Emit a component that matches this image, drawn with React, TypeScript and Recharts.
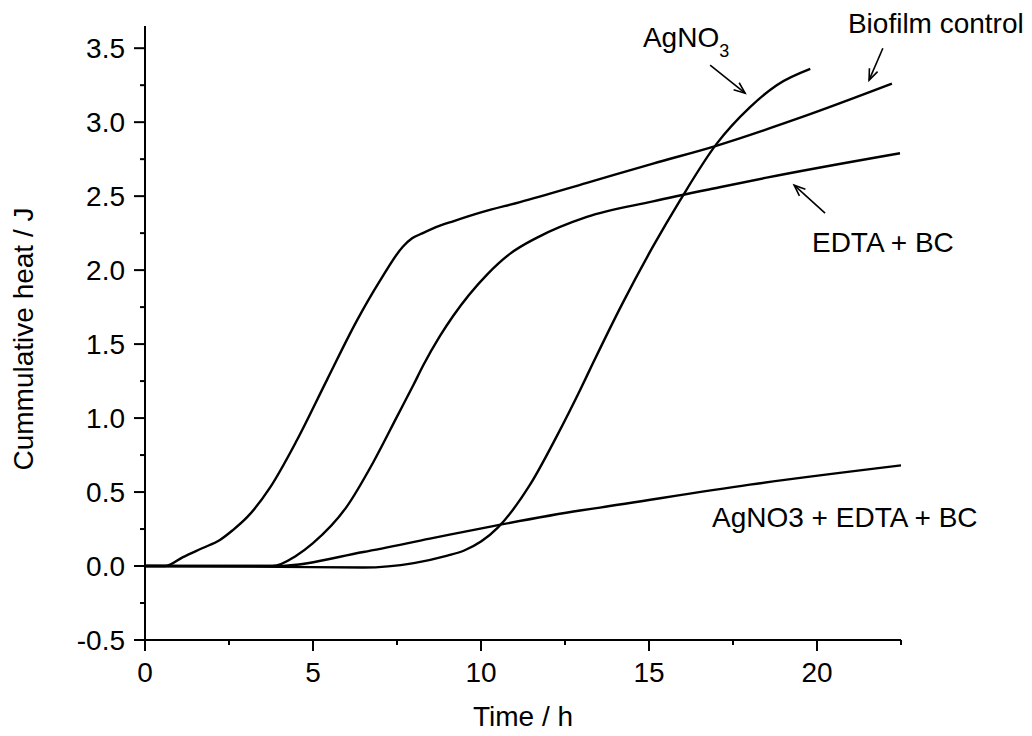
import { LineChart, Line, XAxis, YAxis, ReferenceLine, ReferenceDot } from "recharts";

const INK = "#000";
const FONT = '"Liberation Sans", Arial, sans-serif';

// time in h, cumulative heat in J
const biofilmTime = [0, 0.6, 1.13, 1.7, 2.23, 2.6, 3.04, 3.72, 4.52, 5.42, 6.31, 7.0, 7.68, 7.95, 8.27, 8.78, 9.17, 10.0, 11.16, 13.15, 15.12, 17.0, 19.5, 22.23];
const biofilmHeat = [0, 0, 0.06, 0.12, 0.176, 0.24, 0.33, 0.53, 0.85, 1.26, 1.66, 1.93, 2.16, 2.215, 2.25, 2.3, 2.33, 2.39, 2.46, 2.59, 2.72, 2.84, 3.03, 3.26];

const edtaTime = [0, 3.8, 4.5, 5.0, 6.0, 6.79, 7.5, 7.98, 8.29, 8.78, 9.17, 10.18, 10.86, 11.67, 13.15, 15.12, 17.1, 18.5, 22.47];
const edtaHeat = [0, 0, 0.07, 0.155, 0.4, 0.7, 1.01, 1.22, 1.36, 1.555, 1.69, 1.97, 2.11, 2.22, 2.36, 2.465, 2.56, 2.625, 2.79];

const agTime = [0, 4.0, 6.5, 8.0, 9.0, 9.5, 10.0, 10.5, 11.46, 12.26, 12.95, 13.33, 14.2, 15.12, 15.92, 17.0, 18.0, 18.8, 19.8];
const agHeat = [0, -0.005, -0.01, 0.02, 0.07, 0.105, 0.165, 0.26, 0.55, 0.88, 1.19, 1.37, 1.77, 2.16, 2.47, 2.85, 3.1, 3.25, 3.36];

const comboTime = [0, 3.9, 6.5, 8.48, 10.36, 12.95, 13.54, 18.0, 22.5];
const comboHeat = [0, 0, 0.095, 0.185, 0.27, 0.375, 0.395, 0.55, 0.68];

const xTicks = [0, 2.5, 5, 7.5, 10, 12.5, 15, 17.5, 20, 22.5];
const yTicks = [-0.5, -0.25, 0, 0.25, 0.5, 0.75, 1, 1.25, 1.5, 1.75, 2, 2.25, 2.5, 2.75, 3, 3.25, 3.5];

const toPoints = (time: number[], heat: number[]) => time.map((t, i) => ({ t, q: heat[i] }));

const series = [
  { name: "Biofilm control", data: toPoints(biofilmTime, biofilmHeat) },
  { name: "EDTA + BC", data: toPoints(edtaTime, edtaHeat) },
  { name: "AgNO3", data: toPoints(agTime, agHeat) },
  { name: "AgNO3 + EDTA + BC", data: toPoints(comboTime, comboHeat) },
];

const isMajor = (v: number, step: number) => Math.abs(v / step - Math.round(v / step)) < 1e-6;

function XTick({ x, y, payload }: any) {
  const major = isMajor(payload.value, 5);
  return (
    <g>
      <line x1={x} y1={y} x2={x} y2={y + (major ? 11 : 5)} stroke={INK} strokeWidth={2} />
      {major && (
        <text x={x} y={y + 42} textAnchor="middle" fontSize={28} fontFamily={FONT} fill={INK}>
          {payload.value}
        </text>
      )}
    </g>
  );
}

function YTick({ x, y, payload }: any) {
  const major = isMajor(payload.value, 0.5);
  return (
    <g>
      <line x1={x} y1={y} x2={x - (major ? 11 : 5)} y2={y} stroke={INK} strokeWidth={2} />
      {major && (
        <text x={x - 20} y={y + 10} textAnchor="end" fontSize={28} fontFamily={FONT} fill={INK}>
          {payload.value.toFixed(1)}
        </text>
      )}
    </g>
  );
}

function yTitle({ viewBox }: any) {
  const cx = viewBox.x + 33;
  const cy = viewBox.y + viewBox.height / 2 + 6;
  return (
    <text x={cx} y={cy} transform={`rotate(-90, ${cx}, ${cy})`} textAnchor="middle" fontSize={28} fontFamily={FONT} fill={INK}>
      Cummulative heat / J
    </text>
  );
}

function xTitle({ viewBox }: any) {
  return (
    <text x={viewBox.x + viewBox.width / 2} y={viewBox.y + 86} textAnchor="middle" fontSize={28} fontFamily={FONT} fill={INK}>
      Time / h
    </text>
  );
}

function arrow(props: any) {
  const { x1, y1, x2, y2 } = props;
  const a = Math.atan2(y2 - y1, x2 - x1);
  const len = 12;
  const s = 0.38;
  const p1 = `${x2 - len * Math.cos(a - s)},${y2 - len * Math.sin(a - s)}`;
  const p2 = `${x2 - len * Math.cos(a + s)},${y2 - len * Math.sin(a + s)}`;
  return (
    <g>
      <line x1={x1} y1={y1} x2={x2} y2={y2} stroke={INK} strokeWidth={1.6} />
      <polyline points={`${p1} ${x2},${y2} ${p2}`} fill="none" stroke={INK} strokeWidth={1.6} />
    </g>
  );
}

const labelAt = (content: React.ReactNode) => (p: any) => (
  <text x={p.cx} y={p.cy} fontSize={28} fontFamily={FONT} fill={INK}>
    {content}
  </text>
);

export default function App() {
  return (
    <div style={{ position: "absolute", left: 0, top: 0, background: "#fff" }}>
      <LineChart width={1032} height={736} margin={{ top: 26, right: 131, bottom: 0, left: 0 }}>
        <XAxis
          dataKey="t"
          type="number"
          domain={[0, 22.5]}
          ticks={xTicks}
          interval={0}
          height={96}
          tickSize={0}
          tickMargin={0}
          tickLine={false}
          axisLine={{ stroke: INK, strokeWidth: 2 }}
          tick={XTick}
          label={xTitle}
        />
        <YAxis
          dataKey="q"
          type="number"
          domain={[-0.5, 3.65]}
          ticks={yTicks}
          interval={0}
          width={145}
          tickSize={0}
          tickMargin={0}
          tickLine={false}
          axisLine={{ stroke: INK, strokeWidth: 2 }}
          tick={YTick}
          label={yTitle}
        />
        {series.map((s) => (
          <Line
            key={s.name}
            data={s.data}
            dataKey="q"
            type="monotone"
            stroke={INK}
            strokeWidth={2.4}
            dot={false}
            isAnimationActive={false}
          />
        ))}
        <ReferenceLine segment={[{ x: 16.82, y: 3.385 }, { x: 17.86, y: 3.196 }]} ifOverflow="visible" shape={arrow} />
        <ReferenceLine segment={[{ x: 21.96, y: 3.5 }, { x: 21.55, y: 3.284 }]} ifOverflow="visible" shape={arrow} />
        <ReferenceLine segment={[{ x: 20.24, y: 2.385 }, { x: 19.32, y: 2.574 }]} ifOverflow="visible" shape={arrow} />
        <ReferenceDot
          x={14.82}
          y={3.507}
          r={0}
          ifOverflow="visible"
          shape={labelAt(
            <>
              AgNO<tspan fontSize={18} dy={10}>3</tspan>
            </>
          )}
        />
        <ReferenceDot x={20.92} y={3.6} r={0} ifOverflow="visible" shape={labelAt("Biofilm control")} />
        <ReferenceDot x={19.85} y={2.12} r={0} ifOverflow="visible" shape={labelAt("EDTA + BC")} />
        <ReferenceDot x={16.875} y={0.264} r={0} ifOverflow="visible" shape={labelAt("AgNO3 + EDTA + BC")} />
      </LineChart>
    </div>
  );
}
